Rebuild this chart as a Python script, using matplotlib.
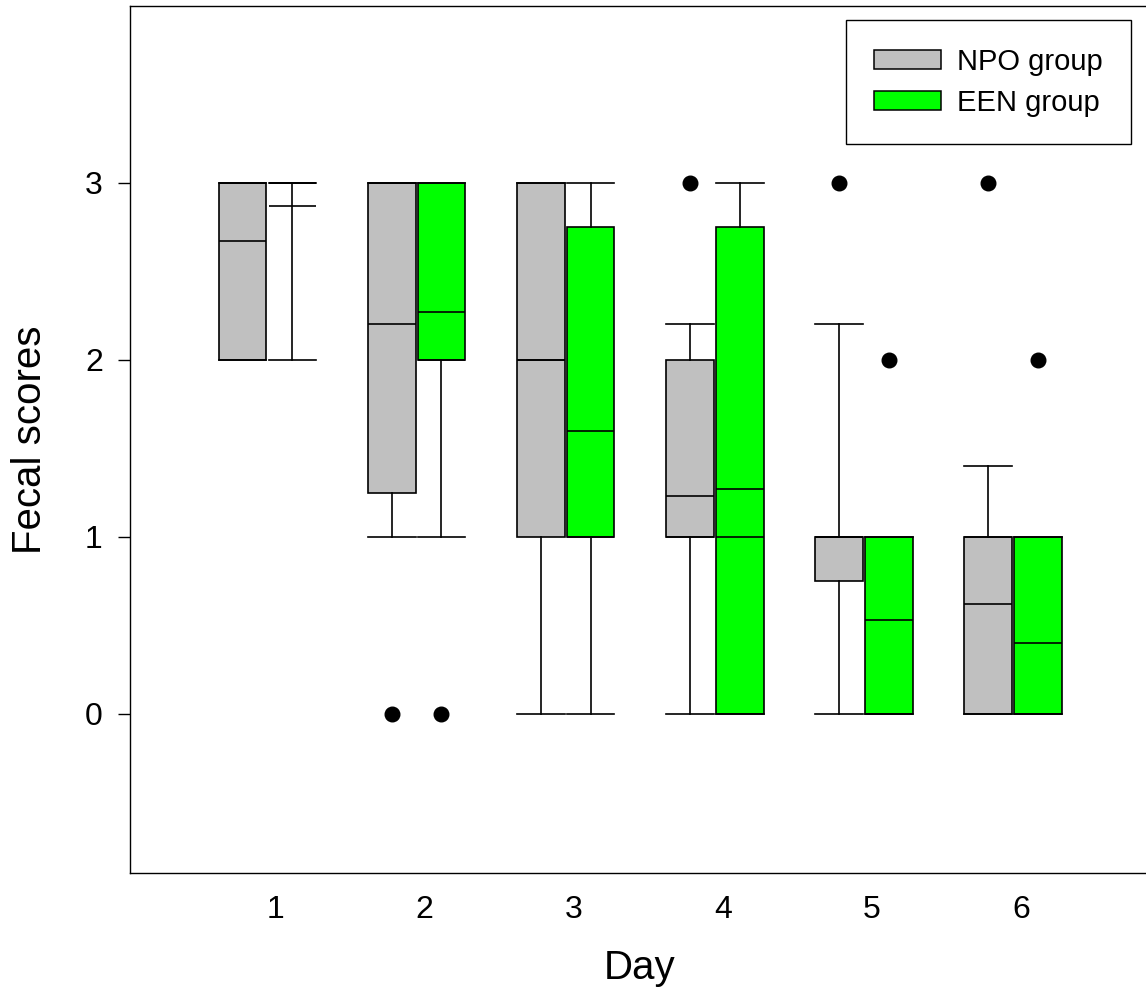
import matplotlib
matplotlib.use("Agg")
import matplotlib.pyplot as plt
from matplotlib.patches import Patch
from matplotlib.transforms import ScaledTranslation

plt.rcParams["font.family"] = ["Liberation Sans", "DejaVu Sans"]

# Fecal scores per day, box statistics
days = [1, 2, 3, 4, 5, 6]

npo_q1 = [2, 1.25, 1, 1, 0.75, 0]
npo_q3 = [3, 3, 3, 2, 1, 1]
npo_med = [3, 3, 2, 1, 1, 1]
npo_mean = [2.67, 2.2, 2.0, 1.23, 1.0, 0.62]
npo_lo = [2, 1, 0, 0, 0, 0]
npo_hi = [3, 3, 3, 2.2, 2.2, 1.4]
npo_out = [[], [0], [], [3], [3], [3]]

een_q1 = [3, 2, 1, 0, 0, 0]
een_q3 = [3, 3, 2.75, 2.75, 1, 1]
een_med = [3, 2, 1, 1, 0, 0]
een_mean = [2.87, 2.27, 1.6, 1.27, 0.53, 0.40]
een_lo = [2, 1, 0, 0, 0, 0]
een_hi = [3, 3, 3, 3, 1, 1]
een_out = [[], [0], [], [], [2], [2]]

NPO_COLOR = "#c0c0c0"
EEN_COLOR = "#00ff00"


def make_stats(q1, q3, med, mean, lo, hi, out):
    return [dict(q1=a, q3=b, med=m, mean=mu, whislo=l, whishi=h, fliers=f)
            for a, b, m, mu, l, h, f in zip(q1, q3, med, mean, lo, hi, out)]


fig = plt.figure(figsize=(11.46, 9.9), dpi=100)
ax = fig.add_axes([130 / 1146, 117 / 990, 1020 / 1146, 867 / 990])

offset = 0.167
width = 0.32
line_kw = dict(color="black", linewidth=1.2)

for stats, sign, color in [
    (make_stats(npo_q1, npo_q3, npo_med, npo_mean, npo_lo, npo_hi, npo_out), -1, NPO_COLOR),
    (make_stats(een_q1, een_q3, een_med, een_mean, een_lo, een_hi, een_out), 1, EEN_COLOR),
]:
    ax.bxp(stats, positions=[d + sign * offset for d in days], widths=width,
           capwidths=width, patch_artist=True, showmeans=True, meanline=True,
           boxprops=dict(facecolor=color, edgecolor="black", linewidth=1.2),
           medianprops=line_kw, meanprops=dict(linestyle="-", **line_kw),
           whiskerprops=line_kw, capprops=line_kw,
           flierprops=dict(marker="o", markerfacecolor="black",
                           markeredgecolor="black", markersize=10.5),
           manage_ticks=False)

ax.set_xlim(0.078, 6.919)
ax.set_ylim(-0.9, 4.0)

ax.set_xticks(days)
ax.set_xticklabels([str(d) for d in days])
ax.set_yticks([0, 1, 2, 3])
ax.tick_params(axis="x", length=0, pad=16, labelsize=23)
ax.tick_params(axis="y", direction="out", length=8.6, width=1.0, pad=11, labelsize=23)
shift = ScaledTranslation(8 / 100, 0, fig.dpi_scale_trans)
for lab in ax.get_xticklabels():
    lab.set_transform(lab.get_transform() + shift)

for side in ["left", "bottom", "top", "right"]:
    ax.spines[side].set_linewidth(1.0)

ax.set_xlabel("Day", fontsize=29, labelpad=17)
ax.set_ylabel("Fecal scores", fontsize=29, labelpad=26)

handles = [Patch(facecolor=NPO_COLOR, edgecolor="black", linewidth=1.1),
           Patch(facecolor=EEN_COLOR, edgecolor="black", linewidth=1.1)]
leg = ax.legend(handles, ["NPO group", "EEN group"], loc="upper right",
                bbox_to_anchor=(0.981, 0.984), borderaxespad=0, fontsize=21,
                fancybox=False, edgecolor="black", framealpha=1,
                handlelength=2.3, handleheight=0.6, handletextpad=0.55,
                labelspacing=0.45, borderpad=0.95)
leg.get_frame().set_linewidth(1.0)

fig.savefig("out.png", dpi=100)
